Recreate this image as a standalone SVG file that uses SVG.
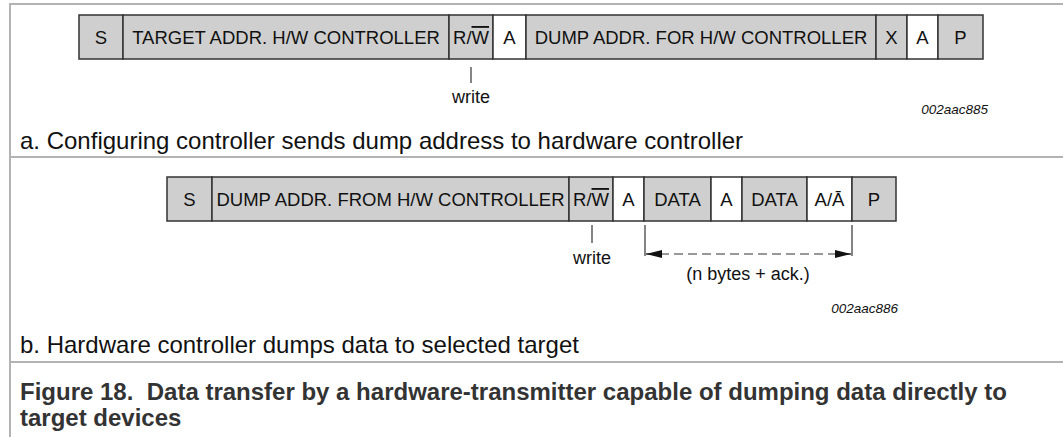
<svg xmlns="http://www.w3.org/2000/svg" width="1063" height="437" viewBox="0 0 1063 437">
<style>
.frame{fill:none;stroke:#b3b3b3;stroke-width:2}
.cell{fill:#cfcfcf;stroke:#333;stroke-width:1.5}
.ack{fill:#fff;stroke:#333;stroke-width:1.5}
.lbl{font-family:"Liberation Sans",Arial,sans-serif;font-size:18.5px;fill:#111;text-anchor:middle}
.note{font-family:"Liberation Sans",Arial,sans-serif;font-size:18px;fill:#111;text-anchor:middle}
.code{font-family:"Liberation Sans",Arial,sans-serif;font-size:13.5px;font-style:italic;fill:#111;text-anchor:end}
.cap{font-family:"Liberation Sans",Arial,sans-serif;font-size:24px;fill:#111}
.fig{font-family:"Liberation Sans",Arial,sans-serif;font-size:24px;font-weight:bold;fill:#333}
.tick{stroke:#333;stroke-width:1.2}
.ol{text-decoration:overline}
</style>
<defs>
<marker id="arr" viewBox="0 0 16 8" refX="16" refY="4" markerWidth="16" markerHeight="8" markerUnits="userSpaceOnUse" orient="auto-start-reverse">
<path d="M0,0 L16,4 L0,8 Z" fill="#111"/>
</marker>
</defs>
<path class="frame" d="M1063,4 H10 V437"/>
<line class="frame" x1="10" y1="157" x2="1063" y2="157"/>
<line class="frame" x1="10" y1="362" x2="1063" y2="362"/>

<g id="frame-a">
<g id="a-S"><rect class="cell" x="79" y="15" width="44" height="44"/><text class="lbl" x="101" y="44">S</text></g>
<g id="a-target"><rect class="cell" x="123" y="15" width="326" height="44"/><text class="lbl" x="286" y="44">TARGET ADDR. H/W CONTROLLER</text></g>
<g id="a-rw"><rect class="cell" x="449" y="15" width="44" height="44"/><text class="lbl" x="471" y="44">R/<tspan class="ol">W</tspan></text></g>
<g id="a-A1"><rect class="ack" x="493" y="15" width="33" height="44"/><text class="lbl" x="509.5" y="44">A</text></g>
<g id="a-dump"><rect class="cell" x="526" y="15" width="350" height="44"/><text class="lbl" x="701" y="44">DUMP ADDR. FOR H/W CONTROLLER</text></g>
<g id="a-X"><rect class="cell" x="876" y="15" width="31" height="44"/><text class="lbl" x="891.5" y="44">X</text></g>
<g id="a-A2"><rect class="ack" x="907" y="15" width="31" height="44"/><text class="lbl" x="922.5" y="44">A</text></g>
<g id="a-P"><rect class="cell" x="938" y="15" width="45" height="44"/><text class="lbl" x="960.5" y="44">P</text></g>
<g id="a-write"><text class="note" x="471" y="103">write</text></g>
<text class="code" x="988" y="114">002aac885</text>
<text class="cap" x="20" y="149">a. Configuring controller sends dump address to hardware controller</text>
</g>

<g id="frame-b">
<g id="b-S"><rect class="cell" x="167" y="177" width="45" height="44"/><text class="lbl" x="189.5" y="206">S</text></g>
<g id="b-dump"><rect class="cell" x="212" y="177" width="357" height="44"/><text class="lbl" x="390.5" y="206">DUMP ADDR. FROM H/W CONTROLLER</text></g>
<g id="b-rw"><rect class="cell" x="569" y="177" width="44" height="44"/><text class="lbl" x="591" y="206">R/<tspan class="ol">W</tspan></text></g>
<g id="b-A1"><rect class="ack" x="613" y="177" width="31" height="44"/><text class="lbl" x="628.5" y="206">A</text></g>
<g id="b-data1"><rect class="cell" x="644" y="177" width="67" height="44"/><text class="lbl" x="677.5" y="206">DATA</text></g>
<g id="b-A2"><rect class="ack" x="711" y="177" width="31" height="44"/><text class="lbl" x="726.5" y="206">A</text></g>
<g id="b-data2"><rect class="cell" x="742" y="177" width="65" height="44"/><text class="lbl" x="774.5" y="206">DATA</text></g>
<g id="b-AA"><rect class="ack" x="807" y="177" width="45" height="44"/><text class="lbl" x="829.5" y="206">A/Ā</text></g>
<g id="b-P"><rect class="cell" x="852" y="177" width="44" height="44"/><text class="lbl" x="874" y="206">P</text></g>
<g id="b-write"><text class="note" x="592" y="264">write</text></g>
<g id="b-bytes"><text class="note" x="748" y="280">(n bytes + ack.)</text></g>
<text class="code" x="898" y="313">002aac886</text>
<text class="cap" x="20" y="353">b. Hardware controller dumps data to selected target</text>
</g>

<g id="connectors">
<line class="tick" x1="471" y1="67" x2="471" y2="83"/>
<line class="tick" x1="592" y1="225" x2="592" y2="243"/>
<line class="tick" x1="645" y1="225" x2="645" y2="256"/>
<line class="tick" x1="852" y1="225" x2="852" y2="256"/>
<line x1="660" y1="254" x2="837" y2="254" stroke="#333" stroke-width="1.2" stroke-dasharray="9 5"/>
<line x1="660" y1="254" x2="646" y2="254" stroke="#111" stroke-width="1.2" marker-end="url(#arr)"/>
<line x1="837" y1="254" x2="851" y2="254" stroke="#111" stroke-width="1.2" marker-end="url(#arr)"/>
</g>

<g id="caption">
<text class="fig" x="20" y="400" xml:space="preserve">Figure 18.  Data transfer by a hardware-transmitter capable of dumping data directly to</text>
<text class="fig" x="20" y="426">target devices</text>
</g>
</svg>
